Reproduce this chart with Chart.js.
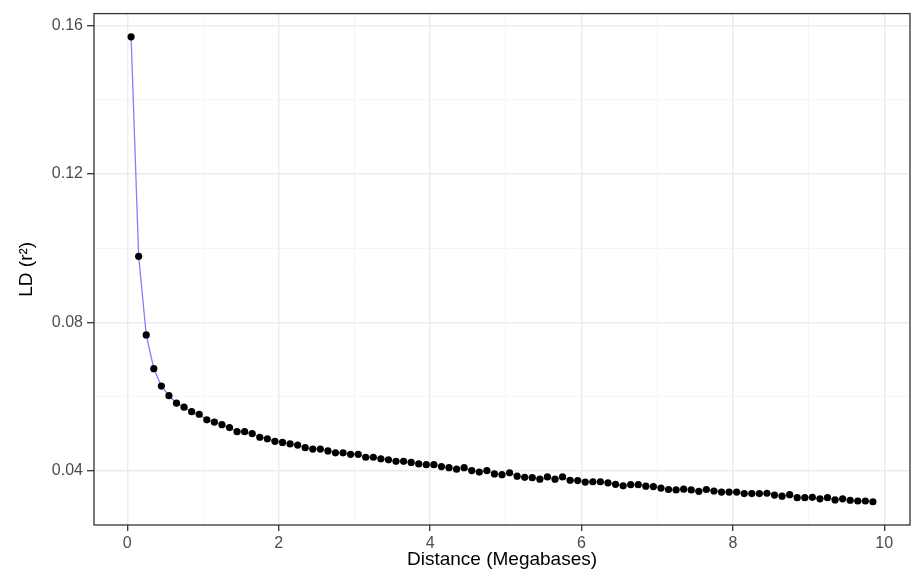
<!DOCTYPE html>
<html lang="en">
<head>
    <meta charset="UTF-8">
    <title>LD decay</title>
    <style>
        body { margin: 0; background: #fff; }
    </style>
</head>
<body>
    <canvas id="myChart" width="914" height="583"></canvas>

    <script src="https://cdn.jsdelivr.net/npm/chart.js"></script>

    <script>
        // distance in megabases (bin centres)
        const distance = [
            0.05, 0.15, 0.25, 0.35, 0.45, 0.55, 0.65, 0.75, 0.85, 0.95,
            1.05, 1.15, 1.25, 1.35, 1.45, 1.55, 1.65, 1.75, 1.85, 1.95,
            2.05, 2.15, 2.25, 2.35, 2.45, 2.55, 2.65, 2.75, 2.85, 2.95,
            3.05, 3.15, 3.25, 3.35, 3.45, 3.55, 3.65, 3.75, 3.85, 3.95,
            4.05, 4.15, 4.25, 4.35, 4.45, 4.55, 4.65, 4.75, 4.85, 4.95,
            5.05, 5.15, 5.25, 5.35, 5.45, 5.55, 5.65, 5.75, 5.85, 5.95,
            6.05, 6.15, 6.25, 6.35, 6.45, 6.55, 6.65, 6.75, 6.85, 6.95,
            7.05, 7.15, 7.25, 7.35, 7.45, 7.55, 7.65, 7.75, 7.85, 7.95,
            8.05, 8.15, 8.25, 8.35, 8.45, 8.55, 8.65, 8.75, 8.85, 8.95,
            9.05, 9.15, 9.25, 9.35, 9.45, 9.55, 9.65, 9.75, 9.85
        ];

        // mean r^2 per bin
        const ld = [
            0.1570, 0.0978, 0.0766, 0.0675, 0.0628, 0.0602, 0.0582, 0.0571, 0.0559, 0.0552,
            0.0537, 0.0531, 0.0524, 0.0516, 0.0505, 0.0505, 0.0500, 0.0490, 0.0486, 0.0479,
            0.0476, 0.0472, 0.0469, 0.0462, 0.0458, 0.0458, 0.0453, 0.0448, 0.0448, 0.0444,
            0.0444, 0.0436, 0.0436, 0.0432, 0.0429, 0.0425, 0.0425, 0.0422, 0.0418, 0.0416,
            0.0416, 0.0411, 0.0408, 0.0404, 0.0408, 0.0400, 0.0396, 0.0400, 0.0391, 0.0389,
            0.0394, 0.0385, 0.0382, 0.0381, 0.0377, 0.0383, 0.0377, 0.0383, 0.0374, 0.0373,
            0.0369, 0.0370, 0.0370, 0.0367, 0.0363, 0.0359, 0.0362, 0.0362, 0.0358, 0.0357,
            0.0353, 0.0349, 0.0348, 0.0350, 0.0348, 0.0344, 0.0349, 0.0345, 0.0342, 0.0342,
            0.0342, 0.0338, 0.0338, 0.0338, 0.0339, 0.0334, 0.0331, 0.0335, 0.0327, 0.0327,
            0.0328, 0.0324, 0.0327, 0.0321, 0.0324, 0.0320, 0.0318, 0.0318, 0.0316
        ];

        const xMajor = [0, 2, 4, 6, 8, 10];
        const xMinor = [1, 3, 5, 7, 9];
        const yMajor = [0.04, 0.08, 0.12, 0.16];
        const yMinor = [0.06, 0.10, 0.14];

        // ggplot style 5% expansion
        const xSpan = Math.max(...distance) - Math.min(...distance);
        const ySpan = Math.max(...ld) - Math.min(...ld);
        const xMin = Math.min(...distance) - 0.05 * xSpan;
        const xMax = Math.max(...distance) + 0.05 * xSpan;
        const yMin = Math.min(...ld) - 0.05 * ySpan;
        const yMax = Math.max(...ld) + 0.05 * ySpan;

        const isMajor = (list, v) => list.some(m => Math.abs(m - v) < 1e-9);

        const tickFont = { family: 'Liberation Sans, Arial, sans-serif', size: 16 };
        const titleFont = { family: 'Liberation Sans, Arial, sans-serif', size: 19 };

        // panel border like theme_bw
        const panelBorder = {
            id: 'panelBorder',
            afterDraw(chart) {
                const { ctx, chartArea: a } = chart;
                ctx.save();
                ctx.strokeStyle = '#333333';
                ctx.lineWidth = 1.3;
                ctx.strokeRect(a.left, a.top, a.right - a.left, a.bottom - a.top);
                ctx.restore();
            }
        };

        const points = distance.map((d, i) => ({ x: d, y: ld[i] }));

        const ctx = document.getElementById('myChart');

        new Chart(ctx, {
            type: 'line',
            data: {
                datasets: [
                    {
                        data: points,
                        borderColor: '#7f7fff',
                        borderWidth: 1.3,
                        tension: 0,
                        pointRadius: 3.6,
                        pointBackgroundColor: '#000000',
                        pointBorderColor: '#000000',
                        pointBorderWidth: 0,
                        fill: false,
                    },
                ],
            },
            options: {
                responsive: false,
                animation: false,
                layout: {
                    padding: { left: 0, top: 10.7, right: 1.3, bottom: 0 },
                },
                plugins: {
                    legend: { display: false },
                    tooltip: { enabled: false },
                },
                scales: {
                    x: {
                        type: 'linear',
                        min: xMin,
                        max: xMax,
                        afterBuildTicks: s => { s.ticks = [...xMajor, ...xMinor].sort((a, b) => a - b).map(v => ({ value: v })); },
                        afterFit: s => { s.height = 58; },
                        border: { display: false },
                        grid: {
                            color: c => isMajor(xMajor, c.tick.value) ? '#ebebeb' : '#f3f3f3',
                            lineWidth: c => isMajor(xMajor, c.tick.value) ? 1.4 : 0.8,
                            tickColor: c => isMajor(xMajor, c.tick.value) ? '#333333' : 'rgba(0,0,0,0)',
                            tickLength: 6,
                            tickWidth: 1.3,
                        },
                        ticks: {
                            autoSkip: false,
                            maxRotation: 0,
                            padding: 3,
                            color: '#4d4d4d',
                            font: tickFont,
                            callback: v => isMajor(xMajor, v) ? String(v) : '',
                        },
                        title: {
                            display: true,
                            text: 'Distance (Megabases)',
                            color: '#000000',
                            font: titleFont,
                            padding: { top: 0, bottom: 12 },
                        },
                    },
                    y: {
                        type: 'linear',
                        min: yMin,
                        max: yMax,
                        afterBuildTicks: s => { s.ticks = [...yMajor, ...yMinor].sort((a, b) => a - b).map(v => ({ value: v })); },
                        afterFit: s => { s.width = 94; },
                        border: { display: false },
                        grid: {
                            color: c => isMajor(yMajor, c.tick.value) ? '#ebebeb' : '#f3f3f3',
                            lineWidth: c => isMajor(yMajor, c.tick.value) ? 1.4 : 0.8,
                            tickColor: c => isMajor(yMajor, c.tick.value) ? '#333333' : 'rgba(0,0,0,0)',
                            tickLength: 7,
                            tickWidth: 1.3,
                        },
                        ticks: {
                            autoSkip: false,
                            padding: 4,
                            color: '#4d4d4d',
                            font: tickFont,
                            callback: v => isMajor(yMajor, v) ? v.toFixed(2) : '',
                        },
                        title: {
                            display: true,
                            text: 'LD (r²)',
                            color: '#000000',
                            font: titleFont,
                            padding: { top: 15, bottom: 0 },
                        },
                    },
                },
            },
            plugins: [panelBorder],
        });
    </script>
</body>
</html>
